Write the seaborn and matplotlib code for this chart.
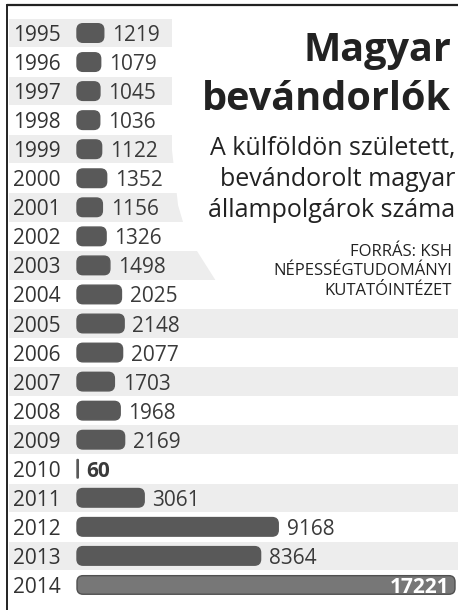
import matplotlib
matplotlib.use("Agg")
import matplotlib.pyplot as plt
import matplotlib.transforms as mtransforms
from matplotlib.patches import FancyBboxPatch, Polygon
import seaborn as sns
import pandas as pd

years = ["1995", "1996", "1997", "1998", "1999", "2000", "2001", "2002", "2003", "2004",
         "2005", "2006", "2007", "2008", "2009", "2010", "2011", "2012", "2013", "2014"]
values = [1219, 1079, 1045, 1036, 1122, 1352, 1156, 1326, 1498, 2025,
          2148, 2077, 1703, 1968, 2169, 60, 3061, 9168, 8364, 17221]

title_lines = ["Magyar", "bevándorlók"]
subtitle_lines = ["A külföldön született,", "bevándorolt magyar", "állampolgárok száma"]
source_lines = ["FORRÁS: KSH", "NÉPESSÉGTUDOMÁNYI", "KUTATÓINTÉZET"]

W, H = 458, 610
sns.set_style("white")
plt.rcParams['font.family'] = ['Open Sans', 'DejaVu Sans']

fig = plt.figure(figsize=(W / 100, H / 100), dpi=100)
ax = fig.add_axes([0, 0, 1, 1])

df = pd.DataFrame({"year": years, "value": values})
sns.barplot(data=df, x="value", y="year", orient="h", color="#595959",
            saturation=1, width=0.64, ax=ax)

# scale: bars start at px 77, 17221 ends at ~455
s = 378 / 17221
ax.set_xlim(-77 / s, (W - 77) / s)
row = 29.05
ax.set_ylim((H - 33) / row, -33 / row)
ax.axis("off")

def px(x, y):
    return (x / W, 1 - y / H)

# rounded bars replacing seaborn's rectangles
rad_x = 6 / s
rad_y = 6 / row
for i, p in enumerate(list(ax.patches)):
    x0, y0, w, h = p.get_x(), p.get_y(), p.get_width(), p.get_height()
    p.remove()
    r = min(rad_x, w / 2)
    fc = "#777777" if years[i] == "2014" else "#595959"
    ec = "#505050" if years[i] == "2014" else "#595959"
    fb = FancyBboxPatch((x0, y0), max(w, 1.2 / s), h,
                        boxstyle=f"round,pad=0,rounding_size={max(r, 0.6 / s)}",
                        mutation_aspect=rad_y / rad_x, fc=fc, ec=ec, lw=1, zorder=3)
    ax.add_patch(fb)

# alternating stripes
for i in range(0, len(years), 2):
    ax.axhspan(i - 0.49, i + 0.49, xmin=9 / W, xmax=1, color="#ededed", lw=0, zorder=0)

# white area behind the title
poly = Polygon([px(172, 0), px(172, 150), px(178, 205), px(183, 222), px(197, 251),
                px(216, 281), px(W, 281), px(W, 0)],
               closed=True, transform=ax.transAxes, fc="white", ec="none", zorder=1)
ax.add_patch(poly)

tr = mtransforms.blended_transform_factory(ax.transAxes, ax.transData)
for i, (yr, v) in enumerate(zip(years, values)):
    ax.text(13 / W, i, yr, transform=tr, ha="left", va="center_baseline",
            fontsize=15, color="#333333", zorder=4)
    if yr == "2014":
        ax.annotate(str(v), (v, i), xytext=(-4, 0), textcoords="offset points",
                    ha="right", va="center_baseline", fontsize=15, fontweight="bold",
                    color="white", zorder=5)
    else:
        ax.annotate(str(v), (v, i), xytext=(6, 0), textcoords="offset points",
                    ha="left", va="center_baseline", fontsize=15,
                    fontweight="bold" if yr == "2010" else "normal",
                    color="#3a3a3a", zorder=5)

# title block
for j, t in enumerate(title_lines):
    ax.text(*px(451, 61 + j * 49), t, transform=ax.transAxes, ha="right",
            va="baseline", fontsize=28.5, fontweight="bold", color="#222222", zorder=5)
for j, t in enumerate(subtitle_lines):
    ax.text(*px(455, 155 + j * 31), t, transform=ax.transAxes, ha="right",
            va="baseline", fontsize=18, color="#222222", zorder=5)
for j, t in enumerate(source_lines):
    ax.text(*px(452, 256 + j * 19.5), t, transform=ax.transAxes, ha="right",
            va="baseline", fontsize=12, color="#222222", zorder=5)

# frame lines
ax.plot([7 / W, 1], [1 - 5 / H] * 2, transform=ax.transAxes, color="#222222", lw=1.6,
        zorder=6, clip_on=False)
ax.plot([7 / W] * 2, [0, 1 - 5 / H], transform=ax.transAxes, color="#222222", lw=1.4,
        zorder=6, clip_on=False)

fig.savefig("out.png", dpi=100, facecolor="white")
